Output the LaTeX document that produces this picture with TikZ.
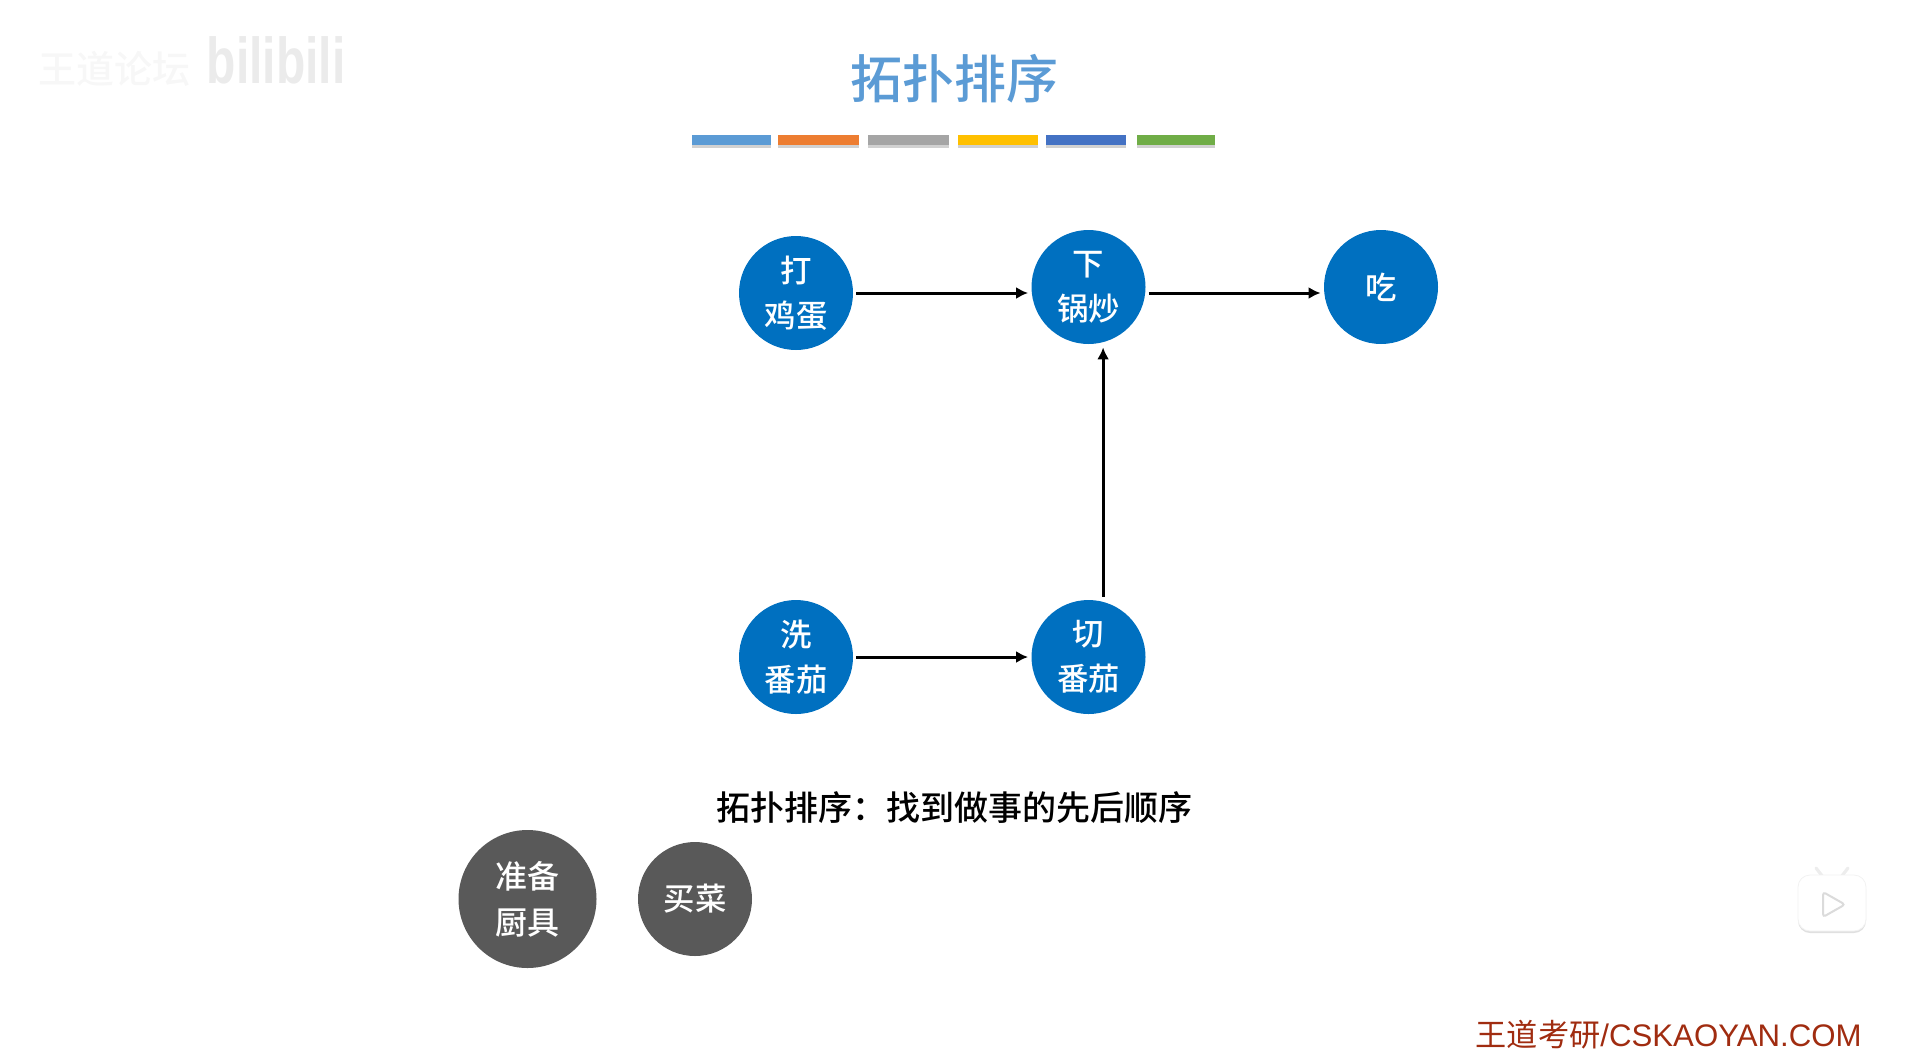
\documentclass[tikz,border=0pt]{standalone}
\usepackage{fontspec}
\setmainfont{Noto Sans CJK SC}
\newfontfamily\medfont{Noto Sans CJK SC Medium}
\newfontfamily\latinfont{Liberation Sans}
\usepackage{xcolor}
\usetikzlibrary{arrows.meta}

\definecolor{stepblue}{HTML}{0070C0}
\definecolor{stepgray}{HTML}{595959}
\definecolor{titleblue}{HTML}{5B9BD5}
\definecolor{footred}{HTML}{A02C10}

\tikzset{
    task/.style={circle,fill=stepblue,text=white,minimum size=57pt,inner sep=0pt,
        align=center,font=\fontsize{15.7}{22.5}\medfont},
    free/.style={task,fill=stepgray},
    link/.style={black,line width=1.5pt,-{Latex[length=6pt,width=6pt]}}
}

\begin{document}
\begin{tikzpicture}[x=0.5pt,y=-0.5pt]
    \useasboundingbox (0,0) rectangle (1905,1061);

    % Watermark
    \node (forum) at (115,69) [text=black!3,font=\fontsize{19}{19}\medfont] {王道论坛};
    \node (bili) at (276,60) [text=black!8,yscale=1.35,transform shape,font=\fontsize{24}{24}\selectfont\bfseries\latinfont] {bilibili};

    % Title
    \node (title) at (954,79) [text=titleblue,font=\fontsize{26}{26}\medfont] {拓扑排序};

    % Colour bars
    \foreach \xa/\xb/\barcol in {692/771/5B9BD5,778/859/ED7D31,868/949/A5A5A5,
                                 958/1038/FFC000,1046/1126/4472C4,1137/1215/70AD47} {
        \definecolor{barcol}{HTML}{\barcol}
        \fill [black!18] (\xa,138) rectangle (\xb,148);
        \fill [barcol] (\xa,135) rectangle (\xb,145);
    }

    % Tasks
    \node (dajidan) at (796,293) [task] {打\\鸡蛋};
    \node (xiaguo) at (1088.5,287) [task] {下\\锅炒};
    \node (chi) at (1381,287) [task] {吃};
    \node (xifanqie) at (796,657) [task] {洗\\番茄};
    \node (qiefanqie) at (1088.5,657) [task] {切\\番茄};

    % Links
    \draw [link,shorten <=1.5pt,shorten >=1.5pt] (dajidan.east) -- (dajidan.east -| xiaguo.west);
    \draw [link,shorten <=1.5pt,shorten >=1.5pt] ([yshift=-3pt]xiaguo.east) -- ([yshift=-3pt]chi.west);
    \draw [link,shorten <=1.5pt,shorten >=1.5pt] (xifanqie) -- (qiefanqie);
    \draw [link,shorten <=1.5pt,shorten >=1.5pt] ([xshift=7.3pt]qiefanqie.north) -- ([xshift=7.3pt]xiaguo.south);

    % Caption
    \node (caption) at (954,808) [text=black,font=\fontsize{17}{17}\medfont] {拓扑排序：找到做事的先后顺序};

    % Tasks not linked yet
    \node (zhunbei) at (527.5,899) [free,minimum size=69pt,font=\fontsize{16}{23}\medfont] {准备\\厨具};
    \node (maicai) at (695,899) [free] {买菜};

    % Footer
    \node (foot) at (1862,1035) [anchor=east,text=footred,inner sep=0pt,font=\fontsize{15.6}{15.6}\selectfont]
        {王道考研{\latinfont/CSKAOYAN.COM}};

    % Player badge
    \draw [line width=1.6pt,black!7,line cap=round] (1816,868) -- (1823,877);
    \draw [line width=1.6pt,black!7,line cap=round] (1848,868) -- (1841,877);
    \fill [black!12,rounded corners=6pt] (1798,877) rectangle (1866,933);
    \draw [black!5,fill=white,rounded corners=6pt] (1798,875) rectangle (1866,931);
    \draw [black!14,fill=white,line width=1pt,rounded corners=1.5pt] (1823,892) -- (1845,904.5) -- (1823,917) -- cycle;
\end{tikzpicture}
\end{document}
